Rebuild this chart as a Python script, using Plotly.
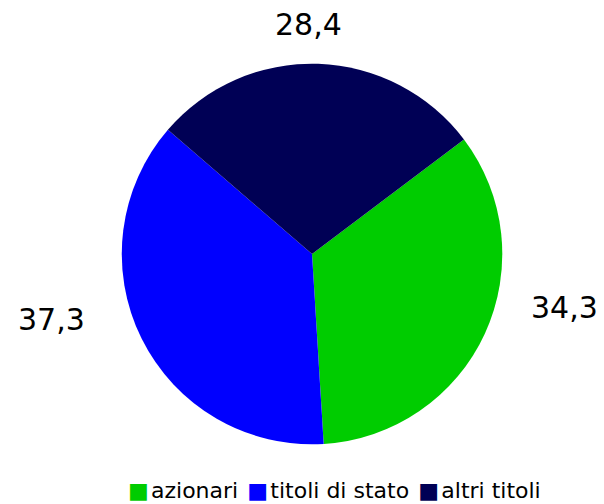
import plotly.graph_objects as go

categories = ["azionari", "titoli di stato", "altri titoli"]
values = [34.3, 37.3, 28.4]
colors = ["#00cc00", "#0000ff", "#000055"]
labels_text = [f"{v:.1f}".replace(".", ",") for v in values]

rotation = 53  # start angle (clockwise from 12 o'clock)

fig = go.Figure()
fig.add_trace(go.Pie(
    labels=categories, values=values, sort=False, direction="clockwise",
    rotation=rotation, marker=dict(colors=colors), textinfo="none",
    hoverinfo="label+value", showlegend=False,
    domain=dict(x=[0.2016, 0.8316], y=[0.1185, 0.8735]),
))

fig.update_layout(
    width=604, height=504,
    margin=dict(l=0, r=0, t=0, b=0, autoexpand=False),
    paper_bgcolor="white", plot_bgcolor="white",
    font=dict(family="DejaVu Sans", color="black"),
    showlegend=False,
)

# data labels placed outside the pie
label_pos = [(0.934, 0.389), (0.086, 0.367), (0.51, 0.952)]
for t, (x, y) in zip(labels_text, label_pos):
    fig.add_annotation(text=t, x=x, y=y, xref="paper", yref="paper",
                       xanchor="center", yanchor="middle",
                       showarrow=False, font=dict(size=30, family="DejaVu Sans"))

# legend row (colored squares + category names)
legend_html = "&#8202;".join(
    f"<span style='color:{c}'>■</span>&#8202;{n} " for c, n in zip(colors, categories)
)
fig.add_annotation(text=legend_html.strip(), x=0.553, y=0.0, xref="paper", yref="paper",
                   xanchor="center", yanchor="bottom", borderpad=0, showarrow=False,
                   font=dict(size=22, family="DejaVu Sans"))

fig.write_html("out.html", config={"displayModeBar": False},
               post_script="document.body.style.margin='0';")
